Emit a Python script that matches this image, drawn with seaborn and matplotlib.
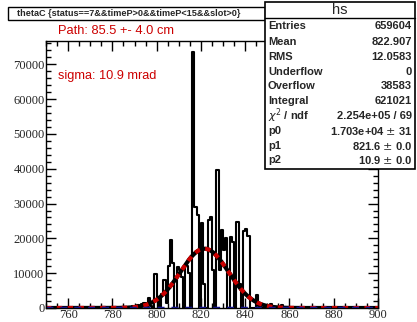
import numpy as np
import pandas as pd
import matplotlib
matplotlib.use("Agg")
import matplotlib.pyplot as plt
from matplotlib.patches import Rectangle
from matplotlib.ticker import MultipleLocator
import seaborn as sns

# ---- data ----
bin_left = list(range(786, 858))
counts = [0, 300, 0, 500, 0, 800, 0, 1100, 1500, 0,
          2900, 500, 0, 9800, 2500, 0, 4000, 8000, 1500, 12000,
          19500, 13000, 0, 11700, 11000, 8800, 0, 12000, 10000, 0,
          73400, 29000, 26700, 0, 24400, 7000, 0, 25300, 26000, 11000,
          0, 39700, 11000, 22400, 16700, 20000, 0, 20500, 19000, 0,
          24700, 7000, 0, 22000, 22600, 20700, 0, 0, 0, 3700,
          500, 0, 0, 600, 0, 1100, 0, 0, 0, 0,
          800, 0]
fit_p0, fit_p1, fit_p2 = 17030.0, 821.6, 10.9
title_text = "thetaC {status==7&&timeP>0&&timeP<15&&slot>0}"
path_text = "Path: 85.5 +- 4.0 cm"
sigma_text = "sigma: 10.9 mrad"
stat_names = ["Entries", "Mean", "RMS", "Underflow", "Overflow", "Integral",
              r"$\chi^2$ / ndf", "p0", "p1", "p2"]
stat_values = ["659604", "822.907", "12.0583", "0", "38583", "621021",
               "2.254e+05 / 69", "1.703e+04 $\\pm$ 31", "821.6 $\\pm$ 0.0", "10.9 $\\pm$ 0.0"]

sns.set_style("white")
plt.rcParams['font.family'] = ['Liberation Sans', 'DejaVu Sans']

fig = plt.figure(figsize=(4.17, 3.22), dpi=100)
ax = fig.add_axes([46/417, 14/322, 332/417, 267/322])

df = pd.DataFrame({"x": [b + 0.5 for b in bin_left], "w": counts})
sns.histplot(data=df, x="x", weights="w", binwidth=1, binrange=(786, 858),
             element="step", fill=False, color="black", linewidth=1.5, ax=ax)

xs = np.linspace(750, 900, 600)
ys = fit_p0 * np.exp(-0.5 * ((xs - fit_p1) / fit_p2) ** 2)
gdf = pd.DataFrame({"x": xs, "y": ys})
sns.lineplot(data=gdf, x="x", y="y", color="black", linewidth=3, ax=ax)
sns.lineplot(data=gdf, x="x", y="y", color="#cc0000", linewidth=3,
             linestyle=(0, (1.3, 1.3)), ax=ax)
zdf = pd.DataFrame({"x": xs, "y": np.zeros_like(xs)})
sns.lineplot(data=zdf, x="x", y="y", color="#1a1aaa", linewidth=2.5,
             linestyle=(0, (2, 2)), ax=ax)

ax.set_xlim(750, 900)
ax.set_ylim(0, 76700)
ax.set_xlabel("")
ax.set_ylabel("")
for s in ax.spines.values():
    s.set_color("black")
    s.set_linewidth(1.0)
ax.xaxis.set_major_locator(MultipleLocator(20))
ax.xaxis.set_minor_locator(MultipleLocator(5))
ax.yaxis.set_major_locator(MultipleLocator(10000))
ax.yaxis.set_minor_locator(MultipleLocator(2000))
ax.tick_params(which="both", direction="in", top=True, right=True, bottom=True, left=True,
               color="black", width=1.0)
ax.tick_params(which="major", length=7, labelsize=9, pad=1)
ax.tick_params(which="minor", length=3.5)
for lab in ax.get_xticklabels() + ax.get_yticklabels():
    lab.set_fontfamily("Liberation Serif")

# red annotation texts
fig.text(58/417, 1 - 31/322, path_text, color="#cc0000", fontsize=9.3, va="center", ha="left")
fig.text(58/417, 1 - 76/322, sigma_text, color="#cc0000", fontsize=9.2, va="center", ha="left")

# title box
fig.patches.append(Rectangle((8/417, 1 - 20/322), 257/417, 13/322, transform=fig.transFigure,
                             facecolor="white", edgecolor="black", linewidth=1.0))
fig.text(17/417, 1 - 13.5/322, title_text, fontsize=6.6, va="center", ha="left", fontweight="bold")

# stats box
bx0, bx1, by0, by1 = 265, 415, 2, 169
fig.patches.append(Rectangle((bx0/417, 1 - by1/322), (bx1 - bx0)/417, (by1 - by0)/322,
                             transform=fig.transFigure, facecolor="white", edgecolor="black",
                             linewidth=1.2, zorder=5))
fig.add_artist(plt.Line2D([bx0/417, bx1/417], [1 - 18/322, 1 - 18/322],
                          transform=fig.transFigure, color="black", linewidth=1.0, zorder=6))
fig.text((bx0 + bx1) / 2 / 417, 1 - 10/322, "hs", fontsize=10.5, ha="center", va="center", zorder=7)
row_y = [26, 42, 57, 72, 86, 101, 116, 131, 146, 160]
for name, val, yy in zip(stat_names, stat_values, row_y):
    fig.text(268/417, 1 - yy/322, name, fontsize=8, ha="left", va="center", fontweight="bold", zorder=7)
    fig.text(412/417, 1 - yy/322, val, fontsize=8, ha="right", va="center", fontweight="bold", zorder=7)

fig.savefig("out.png", dpi=100)
